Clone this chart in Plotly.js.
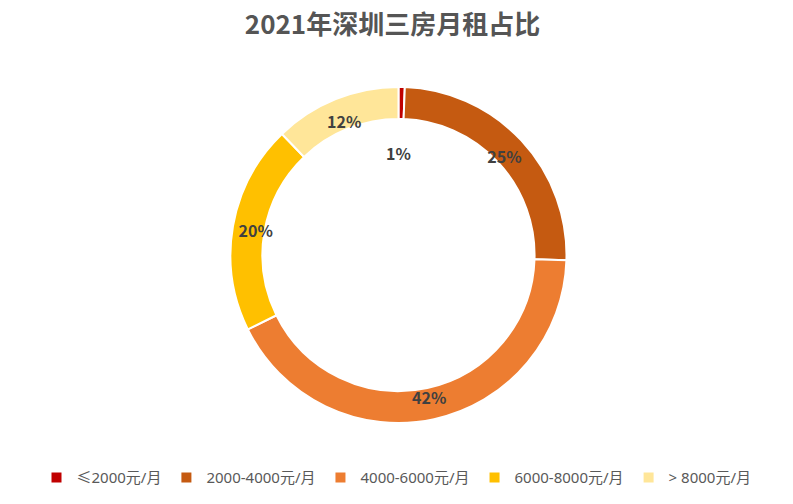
<!DOCTYPE html>
<html>
<head>
<meta charset="utf-8">
<script src="https://cdn.plot.ly/plotly-3.0.1.min.js"></script>
<style>html,body{margin:0;padding:0;background:#fff;}#chart{width:793px;height:504px;}</style>
</head>
<body>
<div id="chart"></div>
<script>
const chartTitle = '2021年深圳三房月租占比';
const categories = ['≤2000元/月', '2000-4000元/月', '4000-6000元/月', '6000-8000元/月', '> 8000元/月'];
const shares = [0.6, 24.9, 42.2, 20.1, 12.2];
const sliceColors = ['#C00000', '#C55A11', '#ED7D31', '#FFC000', '#FFE699'];

const total = shares.reduce((a, b) => a + b, 0);
const pctText = shares.map(v => Math.round(v / total * 100) + '%');
// The tiny first slice shows its label inside the hole instead
const sliceText = pctText.map((t, i) => i === 0 ? '' : t);

const pieDomain = { x: [0.005, 1], y: [0.1607, 0.8274] };
const labelFont = { family: 'Noto Sans CJK SC, Noto Sans, sans-serif', size: 16, color: '#404040', weight: 'bold' };

// visible ring
const ring = {
  type: 'pie',
  labels: categories,
  values: shares,
  textinfo: 'none',
  hole: 0.81,
  sort: false,
  direction: 'clockwise',
  rotation: 0,
  marker: { colors: sliceColors, line: { color: '#ffffff', width: 2 } },
  domain: pieDomain
};

// transparent copy of the same slices that only carries the percentage labels
const labelRing = {
  type: 'pie',
  labels: categories,
  values: shares,
  text: sliceText,
  textinfo: 'text',
  textposition: 'inside',
  insidetextorientation: 'horizontal',
  hole: 0.726,
  sort: false,
  direction: 'clockwise',
  rotation: 0,
  showlegend: false,
  marker: { colors: sliceColors.map(() => 'rgba(0,0,0,0)'), line: { width: 0 } },
  textfont: labelFont,
  domain: pieDomain
};

const layout = {
  width: 793,
  height: 504,
  margin: { l: 0, r: 0, t: 0, b: 0 },
  paper_bgcolor: '#ffffff',
  showlegend: true,
  title: {
    text: '<b>' + chartTitle + '</b>',
    x: 0.495, xanchor: 'center',
    y: 0.95, yanchor: 'middle',
    font: { family: 'Noto Sans CJK SC, sans-serif', size: 26, color: '#555555' }
  },
  legend: {
    orientation: 'h',
    x: 0.5, xanchor: 'center',
    y: 0.052, yanchor: 'middle',
    traceorder: 'normal',
    font: { family: 'Noto Sans, Noto Sans CJK SC, sans-serif', size: 15, color: '#595959' },
    itemwidth: 30
  },
  annotations: [{
    text: '<b>' + pctText[0] + '</b>',
    xref: 'paper', yref: 'paper',
    x: 0.503, y: 0.696,
    xanchor: 'center', yanchor: 'middle',
    showarrow: false,
    font: { family: 'Noto Sans CJK SC, Noto Sans, sans-serif', size: 16, color: '#404040' }
  }]
};

Plotly.newPlot('chart', [ring, labelRing], layout, { displayModeBar: false, staticPlot: true });
</script>
</body>
</html>
